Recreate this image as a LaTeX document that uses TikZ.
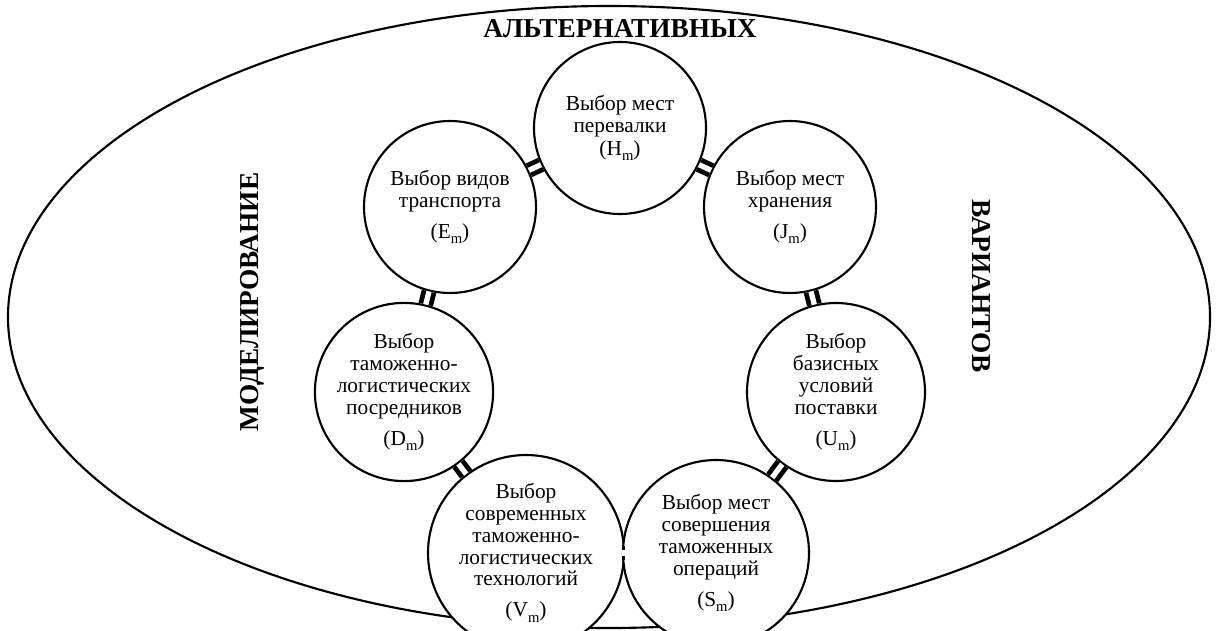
\documentclass[tikz,border=0pt]{standalone}
\usepackage{fontspec}
\setmainfont{Liberation Serif}
\newcommand{\lowm}{\raisebox{-0.55ex}{\fontsize{11}{11}\selectfont m}}
\tikzset{
  choice/.style={circle,draw,line width=1.6pt,fill=white,align=center,inner sep=0pt,
    minimum size=#1,font=\fontsize{16}{16.3}\selectfont},
  link/.style={double,double distance=4pt,line width=3.6pt},
  sidelabel/.style={font=\fontsize{20.5}{24}\selectfont\bfseries},
}
\begin{document}
\begin{tikzpicture}[x=0.75pt,y=-0.75pt]
  \clip (0,0) rectangle (1216,631);
  \draw[line width=1.6pt] (609,317) ellipse [x radius=450.75pt, y radius=233.25pt];

  \node[sidelabel] (alt) at (620,29) {АЛЬТЕРНАТИВНЫХ};
  \node[sidelabel,rotate=90] (model) at (252,302) {МОДЕЛИРОВАНИЕ};
  \node[sidelabel,rotate=-90] (var) at (981,286) {ВАРИАНТОВ};

  \node[choice=129pt] (H) at (620,128) {Выбор мест\\перевалки\\[1pt](H\lowm)};
  \node[choice=129pt] (E) at (450,207) {Выбор видов\\транспорта\\[7pt](E\lowm)};
  \node[choice=129pt] (J) at (790,207) {Выбор мест\\хранения\\[7pt](J\lowm)};
  \node[choice=133.5pt] (D) at (404,392) {Выбор\\таможенно-\\логистических\\посредников\\[7pt](D\lowm)};
  \node[choice=133.5pt] (U) at (836,392) {Выбор\\базисных\\условий\\поставки\\[7pt](U\lowm)};
  \node[choice=147pt] (V) at (526,553) {Выбор\\современных\\таможенно-\\логистических\\технологий\\[7pt](V\lowm)};
  \node[choice=139.5pt] (S) at (716,553) {Выбор мест\\совершения\\таможенных\\операций\\[7pt](S\lowm)};

  \draw[link] (E) -- (H);
  \draw[link] (H) -- (J);
  \draw[link] (J) -- (U);
  \draw[link] (U) -- (S);
  \draw[link] (S) -- (V);
  \draw[link] (V) -- (D);
  \draw[link] (D) -- (E);
\end{tikzpicture}
\end{document}
